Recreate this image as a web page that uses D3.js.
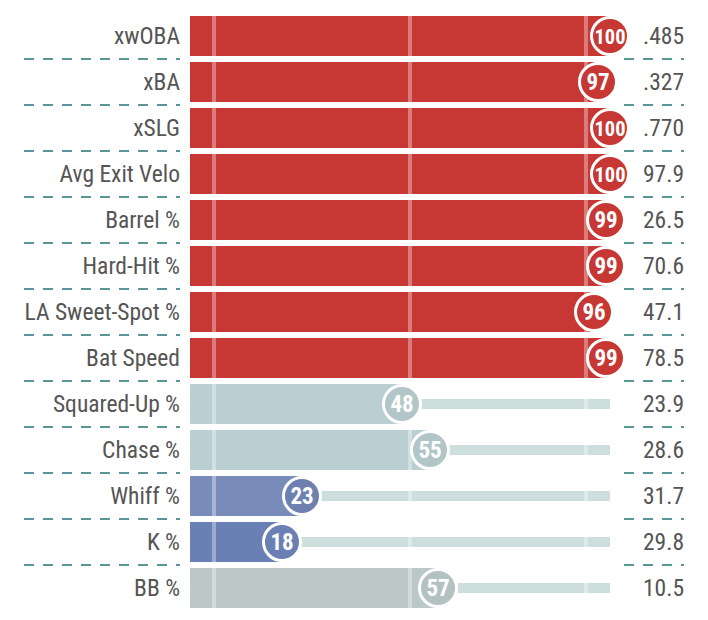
<!DOCTYPE html>
<html>
<head>
<meta charset="utf-8">
<script src="https://cdn.jsdelivr.net/npm/d3@7"></script>
<style>
  body { margin: 0; background: #fff; }
  svg { display: block; }
</style>
</head>
<body>
<svg id="chart"></svg>
<script>
const metrics = ["xwOBA", "xBA", "xSLG", "Avg Exit Velo", "Barrel %", "Hard-Hit %",
    "LA Sweet-Spot %", "Bat Speed", "Squared-Up %", "Chase %", "Whiff %", "K %", "BB %"];
const percentiles = [100, 97, 100, 100, 99, 99, 96, 99, 48, 55, 23, 18, 57];
const statValues = [".485", ".327", ".770", "97.9", "26.5", "70.6", "47.1", "78.5",
    "23.9", "28.6", "31.7", "29.8", "10.5"];
const gridPcts = [1, 50, 94];

class PercentileChart {
    margin = { top: 16, left: 190 };

    constructor(svg, width = 708, height = 620) {
        this.svg = d3.select(svg);
        this.width = width;
        this.height = height;
    }

    initialize() {
        this.svg.attr("width", this.width).attr("height", this.height);

        this.xScale = d3.scaleLinear().domain([0, 100]).range([210, 610]);
        // 46px per row, 40px bar, 6px gap
        this.yScale = d3.scaleBand().domain(metrics)
            .range([this.margin.top, this.margin.top + 46 * metrics.length - 6])
            .paddingInner(6 / 46).paddingOuter(0);

        this.barColor = d3.scaleLinear()
            .domain([0, 18, 23, 48, 55, 57, 90, 100])
            .range(["#5a70a8", "#6a7fb3", "#7a8cb9", "#b9cfd1", "#b9cfd1", "#bcc8c8", "#c73834", "#c73834"]);
        this.dotColor = d3.scaleLinear()
            .domain([0, 18, 23, 48, 55, 57, 90, 100])
            .range(["#5a70a8", "#6a7fb3", "#6e80b0", "#b2c5c7", "#b2c5c7", "#b3c1c1", "#c73834", "#c73834"]);
    }

    update() {
        const rows = metrics.map((m, i) => ({ metric: m, pct: percentiles[i], value: statValues[i], i }));
        const bw = this.yScale.bandwidth();
        const x = this.xScale;
        const font = "'Roboto Condensed', 'Liberation Sans Narrow', Roboto, sans-serif";

        // separators between rows
        const seps = this.svg.append("g")
            .selectAll("g")
            .data(rows.slice(1))
            .join("g")
            .attr("transform", d => `translate(0, ${this.yScale(d.metric) - 3})`);
        seps.append("line").attr("x1", 24).attr("x2", 180);
        seps.append("line").attr("x1", 624).attr("x2", 684);
        seps.selectAll("line")
            .attr("stroke", "#5b9598")
            .attr("stroke-width", 2)
            .attr("stroke-dasharray", "10,9");

        const row = this.svg.append("g")
            .selectAll("g")
            .data(rows)
            .join("g")
            .attr("transform", d => `translate(0, ${this.yScale(d.metric)})`);

        // track behind the dot
        row.append("rect")
            .attr("x", this.margin.left)
            .attr("width", x(100) - this.margin.left)
            .attr("y", bw / 2 - 5)
            .attr("height", 10)
            .attr("fill", "#cddedd");

        row.append("rect")
            .attr("x", this.margin.left)
            .attr("width", d => x(d.pct) - this.margin.left)
            .attr("y", 0)
            .attr("height", bw)
            .attr("fill", d => this.barColor(d.pct));

        // guide lines
        row.selectAll(".grid")
            .data(gridPcts)
            .join("rect")
            .attr("class", "grid")
            .attr("x", p => x(p) - 2)
            .attr("width", 4)
            .attr("y", 0)
            .attr("height", bw)
            .attr("fill", "#fff")
            .attr("opacity", 0.35);

        row.append("circle")
            .attr("cx", d => x(d.pct))
            .attr("cy", bw / 2)
            .attr("r", 18.5)
            .attr("fill", d => this.dotColor(d.pct))
            .attr("stroke", "#fff")
            .attr("stroke-width", 3);

        row.append("text")
            .attr("x", d => x(d.pct))
            .attr("y", bw / 2)
            .attr("dy", "0.36em")
            .attr("text-anchor", "middle")
            .attr("fill", "#fff")
            .style("font-family", font)
            .style("font-weight", "bold")
            .style("font-size", d => d.pct >= 100 ? "21px" : "23px")
            .attr("textLength", d => d.pct >= 100 ? 31 : null)
            .attr("lengthAdjust", "spacingAndGlyphs")
            .text(d => d.pct);

        row.append("text")
            .attr("x", 180)
            .attr("y", bw / 2)
            .attr("dy", "0.36em")
            .attr("text-anchor", "end")
            .attr("fill", "#555")
            .style("font-family", font)
            .style("font-size", "23.5px")
            .text(d => d.metric);

        row.append("text")
            .attr("x", 684)
            .attr("y", bw / 2)
            .attr("dy", "0.36em")
            .attr("text-anchor", "end")
            .attr("fill", "#555")
            .style("font-family", font)
            .style("font-size", "23.5px")
            .text(d => d.value);
    }
}

const chart = new PercentileChart("#chart");
chart.initialize();
chart.update();
</script>
</body>
</html>
